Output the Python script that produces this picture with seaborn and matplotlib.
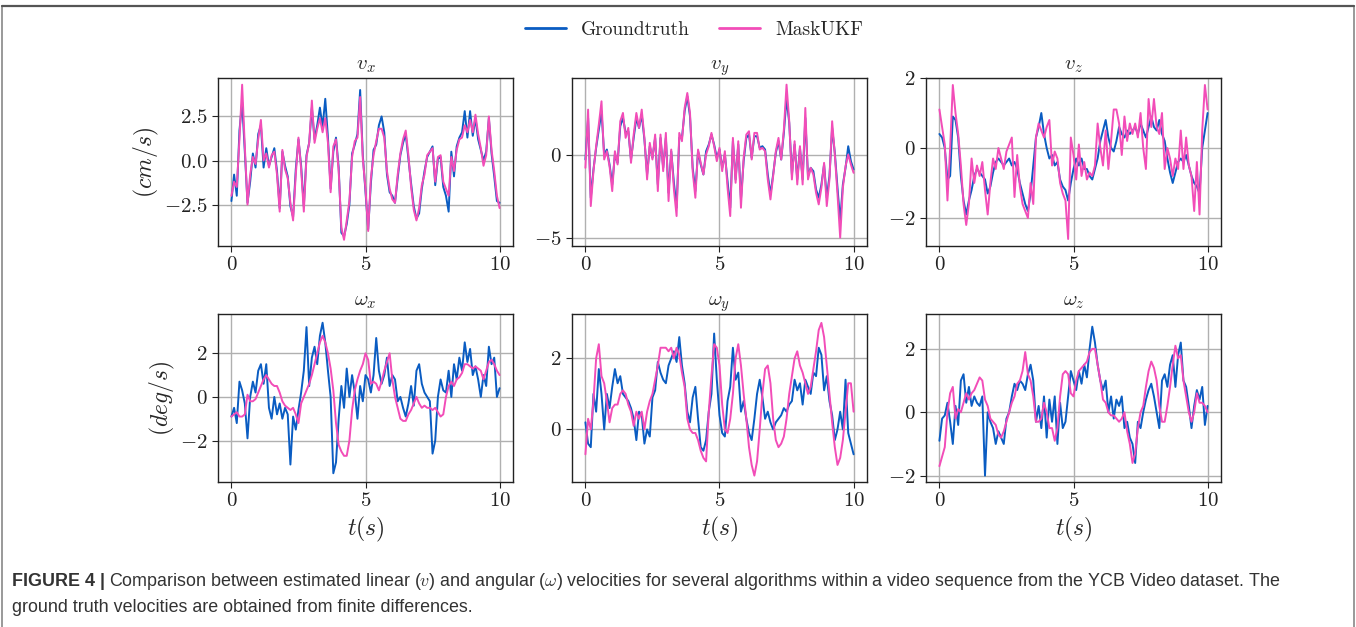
import numpy as np
import pandas as pd
import matplotlib
matplotlib.use("Agg")
import matplotlib.pyplot as plt
import seaborn as sns
from matplotlib.lines import Line2D

# ------------------------------------------
# DATA (t = 0..10 s, step 0.1)
# ------------------------------------------
T = np.round(np.arange(101) * 0.1, 1)

vx_gt = [-2.3, -0.8, -2.0, 1.7, 3.3, 0.5, -2.4, -1.2, 0.4, -0.4,
         1.5, 2.0, -0.4, 0.7, -0.3, 0.2, 0.7, -0.6, -2.7, 0.5,
         -0.3, -0.9, -2.6, -3.2, -0.5, 1.2, -0.3, -2.6, 0.3, 1.0,
         3.0, 1.2, 2.0, 3.0, 1.9, 3.5, 1.3, -1.6, 0.5, 1.3,
         -0.4, -4.1, -4.3, -3.6, -2.5, 0.4, 0.9, 1.5, 4.0, 0.3,
         -1.8, -3.9, -1.3, 0.6, 0.9, 2.0, 2.5, 1.6, -0.8, -1.8,
         -2.0, -2.4, -1.0, 0.3, 1.0, 1.5, 0.1, -1.3, -2.6, -3.3,
         -3.0, -1.6, -0.6, 0.2, 0.5, 0.8, -1.4, 0.1, 0.2, -1.5,
         -2.0, -2.9, 0.5, -0.9, 0.8, 1.3, 1.6, 2.8, 1.3, 2.8,
         1.4, 2.4, 1.2, 0.6, 0.0, 0.5, 2.4, 0.4, -0.9, -2.3,
         -2.4]
vx_ukf = [-2.0, -1.2, -1.5, 1.2, 4.3, 0.8, -2.5, -0.8, 0.2, -0.2,
          1.2, 2.3, 0.0, 0.4, -0.4, 0.3, 0.5, -0.8, -2.9, 0.6,
          -0.5, -1.0, -2.4, -3.4, -0.8, 1.3, -0.5, -2.9, 0.2, 1.0,
          3.4, 1.0, 1.8, 2.4, 1.6, 2.4, 1.0, -1.8, 0.8, 1.2,
          -0.6, -3.8, -4.5, -3.4, -2.3, 0.2, 1.1, 1.3, 3.6, 0.1,
          -1.6, -4.0, -1.0, 0.3, 1.1, 1.8, 1.8, 1.3, -0.6, -1.6,
          -2.2, -2.4, -0.8, 0.4, 1.2, 1.7, 0.3, -1.5, -2.8, -3.4,
          -2.7, -1.4, -0.8, 0.3, 0.5, 0.7, -1.2, 0.2, 0.3, -1.2,
          -1.6, -2.0, 0.2, -0.6, 0.6, 1.2, 1.3, 2.0, 1.6, 2.3,
          1.6, 2.6, 1.5, 0.7, -0.3, 0.3, 2.5, 0.6, -0.6, -2.0,
          -2.7]

vy_gt = [-0.3, 2.2, -2.6, -0.9, 0.4, 1.5, 2.6, 0.0, 0.3, -0.6,
         -1.8, 0.0, -0.5, 1.7, 2.2, 1.3, 1.4, -0.3, 1.0, 2.2,
         1.6, 2.4, 0.9, -1.2, 0.5, -0.2, 1.0, -1.8, 1.0, -0.8,
         1.0, -2.3, 0.2, -1.7, -3.2, 1.0, 1.0, 2.6, 3.5, 2.3,
         -0.8, -2.2, 0.2, -0.6, -1.2, 0.2, 0.6, 1.2, 0.6, -0.2,
         0.3, -0.8, 0.0, -1.6, -3.2, 0.8, -1.5, 0.6, -2.7, -0.4,
         1.0, 1.2, -0.2, 1.1, 1.1, 0.4, 0.5, 0.3, -1.2, -2.4,
         -1.2, 0.1, 0.8, -0.3, 1.3, 3.4, 1.9, -1.2, 0.6, -1.5,
         0.4, -1.5, 2.2, -1.3, -0.8, -1.0, -2.1, -2.6, -1.8, -0.6,
         -2.6, -1.3, 1.6, 0.1, -2.0, -4.0, -1.8, -0.8, 0.5, -0.4,
         -0.9]
vy_ukf = [-0.8, 2.7, -3.1, -1.0, 0.5, 1.8, 3.2, -0.3, 0.2, -0.7,
          -2.2, 0.2, -0.6, 2.0, 2.5, 1.0, 1.6, -0.5, 1.2, 2.5,
          1.6, 2.7, 1.0, -1.5, 0.7, -0.3, 1.2, -2.2, 1.2, -1.0,
          1.3, -2.8, 0.3, -2.1, -3.7, 1.3, 0.8, 2.8, 3.7, 2.5,
          -1.0, -2.6, 0.3, -0.5, -1.2, 0.0, 0.5, 1.3, 0.5, -0.4,
          0.4, -1.0, 0.2, -2.0, -3.7, 1.0, -1.7, 0.8, -3.2, -0.2,
          1.2, 1.4, -0.3, 1.3, 1.3, 0.3, 0.4, 0.2, -1.5, -2.7,
          -1.3, 0.2, 1.0, -0.3, 1.5, 4.2, 2.0, -1.5, 0.8, -1.8,
          0.5, -1.8, 2.8, -1.5, -0.8, -1.2, -2.3, -3.0, -2.0, -0.5,
          -3.1, -1.5, 2.0, 0.0, -2.4, -5.0, -2.0, -0.7, 0.0, -0.6,
          -1.1]

vz_gt = [0.4, 0.3, 0.0, -0.9, -0.8, 0.9, 0.8, 0.3, -0.8, -1.5,
         -1.9, -1.5, -1.2, -0.8, -0.6, -0.7, -0.8, -0.9, -1.3, -1.1,
         -0.7, -0.4, -0.3, -0.4, -0.5, -0.4, -0.3, -0.5, -0.4, -0.6,
         -1.0, -1.3, -1.6, -1.8, -1.3, -0.5, 0.3, 0.6, 1.0, 0.4,
         0.0, -0.3, -0.2, -0.5, -0.4, -0.9, -1.1, -1.2, -1.5, -1.0,
         -0.6, -0.3, -0.5, -0.3, -0.6, -0.6, -0.8, -0.9, -0.6, -0.3,
         0.2, 0.5, 0.8, 0.3, 0.0, -0.1, 0.2, 0.6, 0.4, 0.3,
         0.5, 0.4, 0.5, 0.6, 0.4, 0.7, 0.5, 0.3, 0.6, 0.9,
         0.6, 0.5, 0.8, 0.4, 0.2, -0.3, -0.7, -1.0, -0.7, -0.4,
         -0.3, -0.4, -0.2, -0.5, -0.8, -1.0, -1.1, -1.3, 0.0, 0.5,
         1.0]
vz_ukf = [1.1, 0.6, 0.1, -1.5, 0.0, 1.8, 1.0, 0.4, -0.5, -1.6,
          -2.2, -1.6, -0.3, -1.0, -0.5, -0.8, -0.4, -1.2, -1.9, -1.0,
          -0.3, -0.6, 0.0, -0.3, -0.6, -0.1, 0.1, 0.3, -1.4, -0.2,
          -1.1, -1.6, -1.8, -2.0, -1.0, -1.6, 0.3, 0.7, 0.5, 0.3,
          0.6, 0.8, -0.5, -0.1, -0.3, -1.0, -1.3, -1.5, -2.6, 0.3,
          -0.2, -0.9, 0.1, -0.8, -0.4, -0.9, -0.7, -0.8, -0.5, 0.7,
          0.0, -0.5, 0.5, -0.6, 0.2, 1.1, 1.1, 0.7, -0.2, 0.9,
          0.2, 0.7, 0.4, 0.7, 0.3, 1.0, 0.0, -0.6, 1.4, 0.6,
          1.4, 0.6, 0.4, 1.0, -0.6, 0.0, -0.3, -0.8, -0.3, -0.6,
          0.5, -0.6, 0.3, -0.5, -0.8, -1.8, -0.4, -1.9, 0.5, 1.8,
          1.1]

wx_gt = [-0.9, -0.5, -1.2, 0.7, 0.3, -0.3, -1.9, 0.0, 0.7, 0.2,
         1.2, 1.5, 0.6, 1.5, -0.5, -1.0, 0.0, -0.8, -0.3, -1.0,
         -0.5, -0.8, -3.1, -0.9, -1.5, -0.6, 0.2, 1.2, 3.2, 0.5,
         1.8, 2.3, 1.5, 2.8, 3.4, 2.5, 1.2, 0.0, -3.5, -3.0,
         -1.0, 0.5, -0.5, 1.3, 0.0, 1.0, 0.2, -1.0, 0.5, -0.2,
         1.0, 0.8, 0.2, 1.0, 2.7, 1.2, 0.6, 1.0, 1.8, 0.5,
         1.0, 0.8, -0.2, 0.0, -0.5, -0.9, -0.3, 0.5, -0.4, 1.2,
         1.5, 0.6, 0.2, 0.0, -0.2, -2.6, -2.0, 0.0, 0.8, 0.3,
         0.2, 1.2, 0.0, 1.5, 0.8, 1.8, 1.2, 2.5, 1.6, 2.2,
         1.0, 1.4, 0.8, 0.0, 1.0, 0.5, 2.3, 1.5, 1.8, 0.0,
         0.4]
wx_ukf = [-0.9, -0.8, -0.7, -0.9, -0.9, -0.8, 0.1, -0.2, -0.2, -0.1,
          0.2, 0.5, 0.8, 1.0, 0.8, 0.6, 0.5, 0.5, 0.2, -0.2,
          -0.4, -0.5, -0.6, -0.5, -0.8, -1.2, -0.3, 0.0, 0.3, 0.6,
          1.0, 1.5, 2.0, 2.5, 2.8, 2.5, 2.0, 1.3, 0.3, -1.2,
          -2.2, -2.5, -2.7, -2.7, -2.0, -0.6, 0.3, 0.8, 1.2, 1.5,
          2.0, 1.7, 0.6, 0.7, 0.6, 0.3, 0.7, 1.2, 1.6, 2.0,
          0.8, 0.0, -0.5, -1.0, -1.1, -1.1, -0.8, -0.6, -0.3, 0.0,
          -0.3, -0.5, -0.4, -0.5, -0.5, -0.6, -0.5, -0.7, -0.9, -0.8,
          0.0, 0.5, 0.7, 0.5, 0.8, 0.9, 1.1, 1.5, 1.5, 1.4,
          1.3, 1.4, 1.3, 1.2, 0.8, 1.2, 1.6, 1.7, 1.5, 1.2,
          1.0]

wy_gt = [0.2, -0.4, -0.5, 1.0, 0.5, 1.7, 1.0, 0.0, 1.0, 0.6,
         1.2, 1.7, 1.3, 1.5, 1.0, 0.9, 0.8, 0.6, 0.3, -0.3,
         0.5, 0.4, -0.4, 0.0, -0.2, 0.9, 1.1, 1.9, 1.6, 1.4,
         1.3, 1.8, 2.0, 2.2, 1.9, 2.6, 1.8, 1.3, 0.5, 0.2,
         0.9, 1.2, 0.3, -0.5, -0.6, -0.3, 0.5, 1.0, 2.7, 1.4,
         0.4, -0.1, -0.2, 0.8, 1.2, 2.3, 1.4, 1.6, 0.5, 0.8,
         0.3, -0.1, -0.3, 0.3, 1.0, 1.4, 0.9, 0.3, 0.5, 0.2,
         0.0, 0.2, 0.3, 0.4, 0.6, 0.5, 0.7, 0.8, 1.4, 1.1,
         1.3, 0.7, 1.4, 1.2, 1.0, 1.6, 1.5, 2.3, 2.1, 1.1,
         1.5, 0.8, 0.4, -0.3, 0.0, 0.5, 0.0, 1.4, -0.1, -0.4,
         -0.7]
wy_ukf = [-0.7, 0.3, 0.0, 0.8, 2.0, 2.4, 1.5, 1.3, 0.8, 0.2,
          0.6, 0.7, 0.7, 1.0, 1.1, 1.0, 0.7, 0.5, 0.1, 0.5,
          0.3, 0.5, 0.0, 0.5, 0.8, 1.0, 1.4, 1.8, 2.3, 2.3,
          2.3, 2.2, 2.3, 2.0, 2.3, 2.1, 1.6, 1.2, 0.3, 0.0,
          -0.1, -0.1, -0.3, -0.6, -0.8, -0.9, 0.5, 1.5, 2.4, 2.3,
          1.8, 0.7, 0.0, -0.1, 0.3, 1.0, 2.0, 2.4, 1.8, 1.0,
          0.3, -0.5, -1.0, -1.3, -0.9, 0.0, 1.0, 1.7, 1.8, 1.3,
          0.3, -0.3, -0.5, -0.4, -0.2, 0.3, 1.0, 1.5, 2.0, 2.2,
          1.8, 1.6, 1.3, 1.0, 1.2, 1.7, 2.2, 2.8, 3.0, 2.6,
          1.8, 1.0, 0.2, -0.5, -1.0, -0.8, -0.3, 0.5, 1.3, 1.3,
          0.5]

wz_gt = [-0.9, -0.2, -0.1, 0.3, -0.3, -1.0, 0.2, -0.4, 1.0, 1.2,
         0.3, 0.8, 0.2, 0.5, 0.3, 0.2, 0.5, -2.0, 0.0, -0.3,
         -0.5, -1.0, -0.6, -0.8, -1.0, -0.2, 0.0, 0.5, 0.9, 0.7,
         1.0, 0.9, 0.7, 1.2, 1.5, 1.0, -0.3, 0.2, -0.5, 0.5,
         -0.8, 0.4, -0.3, 0.5, -1.0, 0.3, -0.5, -0.3, 0.5, 1.3,
         1.0, 0.7, 1.3, 0.9, 1.5, 1.1, 2.0, 2.7, 2.2, 1.5,
         1.0, 0.7, 1.0, 0.0, 0.5, -0.2, 0.4, 0.2, 0.5, -0.5,
         -0.3, -0.8, -1.0, -1.6, -0.3, -0.5, 0.0, 0.4, 0.7, 0.9,
         0.5, 0.0, -0.5, 1.0, 1.2, 0.8, 1.5, 1.8, 0.8, 1.8,
         2.2, 1.0, 0.8, 0.2, -0.5, 0.2, 0.7, 0.4, 0.8, -0.4,
         0.2]
wz_ukf = [-1.7, -1.4, -1.1, 0.0, 0.6, 0.8, -0.2, 0.1, 0.0, 0.3,
          0.6, 0.4, 0.6, 0.7, 0.9, 1.1, 1.0, 0.4, 0.2, -0.2,
          -0.3, -0.4, -0.7, -0.8, -0.6, -0.3, 0.0, 0.3, 0.5, 0.9,
          1.0, 1.3, 1.9, 1.2, 1.0, 0.5, -0.3, -0.3, -0.2, 0.3,
          0.0, -0.5, -0.5, -0.9, -0.5, 0.5, 1.2, 1.3, 1.2, 0.6,
          0.5, 1.0, 1.3, 1.4, 1.5, 1.6, 1.9, 2.0, 2.0, 1.5,
          1.0, 0.4, 0.3, 0.0, -0.1, -0.1, -0.2, -0.3, -0.2, 0.0,
          -0.6, -1.0, -1.6, -1.3, -0.5, 0.0, 0.2, 0.8, 1.3, 1.6,
          1.4, 1.0, 0.2, -0.3, -0.3, 0.2, 0.8, 1.5, 2.1, 1.7,
          1.8, 1.0, 0.5, 0.0, -0.3, 0.0, 0.6, 0.3, 0.3, 0.2,
          0.0]

panel_titles = [r"$v_x$", r"$v_y$", r"$v_z$",
                r"$\omega_x$", r"$\omega_y$", r"$\omega_z$"]
gt_series = [vx_gt, vy_gt, vz_gt, wx_gt, wy_gt, wz_gt]
ukf_series = [vx_ukf, vy_ukf, vz_ukf, wx_ukf, wy_ukf, wz_ukf]
y_ticks = [[-2.5, 0.0, 2.5], [-5, 0], [-2, 0, 2],
           [-2, 0, 2], [0, 2], [-2, 0, 2]]
y_limits = [(-4.85, 4.68), (-5.5, 4.6), (-2.8, 2.0),
            (-3.9, 3.8), (-1.48, 3.25), (-2.2, 3.1)]

GT_COLOR = "#0a5cc2"
UKF_COLOR = "#f24db8"

# ------------------------------------------
# STYLE
# ------------------------------------------
sns.set_style("ticks")
plt.rcParams["font.family"] = ["cmr10", "DejaVu Serif"]
plt.rcParams["mathtext.fontset"] = "cm"
plt.rcParams["axes.formatter.use_mathtext"] = True
plt.rcParams["axes.unicode_minus"] = True

W, H = 1356, 627
fig = plt.figure(figsize=(W / 100, H / 100), dpi=100)

col_left = [218, 572, 926]
row_top = [78, 314]
ax_w, ax_h = 295, 168

axes = []
for i in range(6):
    r, c = divmod(i, 3)
    ax = fig.add_axes([col_left[c] / W, 1 - (row_top[r] + ax_h) / H, ax_w / W, ax_h / H])
    df = pd.DataFrame({"t": T, "Groundtruth": gt_series[i], "MaskUKF": ukf_series[i]})
    sns.lineplot(data=df, x="t", y="Groundtruth", ax=ax, color=GT_COLOR, linewidth=1.4)
    sns.lineplot(data=df, x="t", y="MaskUKF", ax=ax, color=UKF_COLOR, linewidth=1.4)
    ax.set_xlim(-0.5, 10.5)
    ax.set_ylim(*y_limits[i])
    ax.set_xticks([0, 5, 10])
    ax.set_yticks(y_ticks[i])
    if i == 0:
        ax.set_yticklabels(["$-2.5$", "$0.0$", "$2.5$"])
    ax.grid(True, color="#b0b0b0", linewidth=1.0)
    ax.set_axisbelow(True)
    for s in ax.spines.values():
        s.set_color("#222222")
        s.set_linewidth(1.0)
    ax.tick_params(labelsize=15, length=4, width=0.8, colors="#222222")
    ax.set_title(panel_titles[i], fontsize=15, pad=6)
    ax.set_xlabel(r"$t(s)$" if r == 1 else "", fontsize=17, labelpad=3)
    ax.set_ylabel("")
    axes.append(ax)

axes[0].set_ylabel(r"$(cm/s)$", fontsize=17, labelpad=2)
axes[3].set_ylabel(r"$(deg/s)$", fontsize=17, labelpad=2)

handles = [Line2D([], [], color=GT_COLOR, linewidth=2),
           Line2D([], [], color=UKF_COLOR, linewidth=2)]
fig.legend(handles, ["Groundtruth", "MaskUKF"], loc="center",
           bbox_to_anchor=(0.512, 1 - 30 / H), ncol=2, frameon=False,
           fontsize=14, handlelength=2.1, columnspacing=1.5)

# caption
cap_kw = dict(family=["Liberation Sans", "DejaVu Sans"], fontsize=12.9, color="#333333")
bold = fig.text(12 / W, 1 - 582 / H, "FIGURE 4 |", fontweight="bold", va="center", **cap_kw)
fig.canvas.draw()
bb = bold.get_window_extent()
fig.text((bb.x1 + 4) / W, 1 - 582 / H,
         "Comparison between estimated linear ($v$) and angular ($\\omega$) velocities for several "
         "algorithms within a video sequence from the YCB Video dataset. The",
         va="center", **cap_kw)
fig.text(12 / W, 1 - 607 / H,
         "ground truth velocities are obtained from finite differences.",
         va="center", **cap_kw)

# figure frame
fig.add_artist(Line2D([2 / W, 2 / W], [0, 1 - 6 / H], color="#888888", linewidth=1.2))
fig.add_artist(Line2D([(W - 2) / W, (W - 2) / W], [0, 1 - 6 / H], color="#888888", linewidth=1.2))
fig.add_artist(Line2D([2 / W, (W - 2) / W], [1 - 6 / H, 1 - 6 / H], color="#555555", linewidth=1.6))

fig.savefig("out.png", dpi=100)
